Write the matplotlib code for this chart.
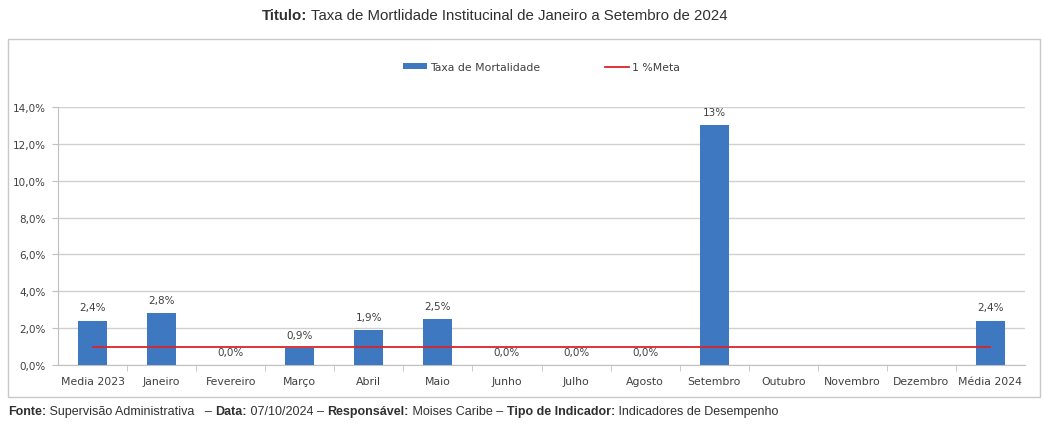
import matplotlib
matplotlib.use("Agg")
import matplotlib.pyplot as plt
from matplotlib.patches import Rectangle

categories = ["Media 2023", "Janeiro", "Fevereiro", "Março", "Abril", "Maio", "Junho",
              "Julho", "Agosto", "Setembro", "Outubro", "Novembro", "Dezembro", "Média 2024"]
taxa = [2.4, 2.8, 0.0, 0.9, 1.9, 2.5, 0.0, 0.0, 0.0, 13.0, None, None, None, 2.4]
taxa_labels = ["2,4%", "2,8%", "0,0%", "0,9%", "1,9%", "2,5%", "0,0%", "0,0%", "0,0%",
               "13%", "", "", "", "2,4%"]
meta = 1.0
y_ticks = [0, 2, 4, 6, 8, 10, 12, 14]
y_tick_labels = ["0,0%", "2,0%", "4,0%", "6,0%", "8,0%", "10,0%", "12,0%", "14,0%"]

title_parts = [("Titulo:", "bold"), (" Taxa de Mortlidade Institucinal de Janeiro a Setembro de 2024", "normal")]
footer_parts = [("Fonte:", "bold"), (" Supervisão Administrativa   – ", "normal"), ("Data:", "bold"),
                (" 07/10/2024 – ", "normal"), ("Responsável:", "bold"), (" Moises Caribe – ", "normal"),
                ("Tipo de Indicador:", "bold"), (" Indicadores de Desempenho", "normal")]

plt.rcParams["font.family"] = ["Liberation Sans", "DejaVu Sans"]
chart_font = "DejaVu Sans"
fig = plt.figure(figsize=(10.43, 4.27), dpi=100)
W, H = 1043, 427

# outer chart frame
fig.patches.append(Rectangle((8 / W, 1 - 398 / H), (1040 - 8) / W, (398 - 40) / H,
                             transform=fig.transFigure, fill=False, edgecolor="#c8c8c8", lw=1))

ax = fig.add_axes([58 / W, 1 - 366 / H, (1025 - 58) / W, (366 - 108) / H])
x = list(range(len(categories)))
vals = [v if v is not None else 0 for v in taxa]
bars = ax.bar(x, vals, width=0.42, color="#3d78c1", label="Taxa de Mortalidade", zorder=3)
line, = ax.plot([x[0], x[-1]], [meta, meta], color="#d9232a", lw=1.3, label="1 %Meta", zorder=4)

for xi, v, lab in zip(x, vals, taxa_labels):
    if lab:
        ax.text(xi, v + 0.45, lab, ha="center", va="bottom", fontsize=7.5, color="#404040",
                family=chart_font, zorder=5)

ax.set_xlim(-0.5, len(categories) - 0.5)
ax.set_ylim(0, 14)
ax.set_yticks(y_ticks)
ax.set_yticklabels(y_tick_labels, fontsize=7.5, color="#404040", family=chart_font)
ax.set_xticks(x)
ax.set_xticklabels(categories, fontsize=7.8, color="#404040", family=chart_font)
ax.tick_params(axis="x", length=0, pad=8)
ax.tick_params(axis="y", length=4, color="#c0c0c0", pad=5)
ax.set_xticks([i + 0.5 for i in x[:-1]], minor=True)
ax.tick_params(axis="x", which="minor", length=4, color="#c0c0c0")
ax.grid(axis="y", color="#d0d0d0", lw=1, zorder=0)
for s in ["top", "right"]:
    ax.spines[s].set_visible(False)
for s in ["left", "bottom"]:
    ax.spines[s].set_color("#c0c0c0")

ax.legend(handles=[bars, line], loc="center", bbox_to_anchor=(0.5, 1.155), ncol=2, frameon=False,
          prop={"family": chart_font, "size": 7.8}, columnspacing=6, handlelength=2.2,
          handleheight=0.45, handletextpad=0.3, labelcolor="#404040")

renderer = fig.canvas.get_renderer()


def chain_text(parts, x0, y0, size):
    xpos = x0
    for txt, weight in parts:
        t = fig.text(xpos, y0, txt, fontsize=size, fontweight=weight, color="#303030",
                     ha="left", va="center")
        bb = t.get_window_extent(renderer=renderer)
        xpos = xpos + bb.width / W


chain_text(title_parts, 262 / W, 1 - 16 / H, 10.8)
chain_text(footer_parts, 8 / W, 1 - 412 / H, 9)

fig.savefig("out.png", dpi=100)
